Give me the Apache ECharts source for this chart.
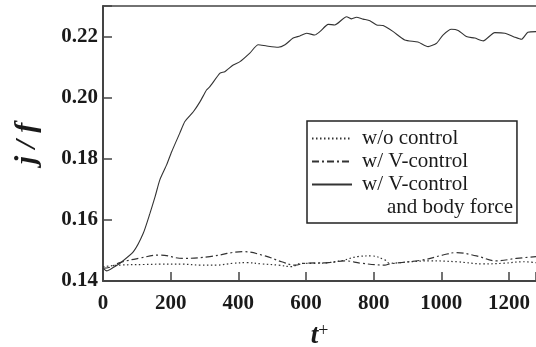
<!DOCTYPE html>
<html>
<head>
<meta charset="utf-8">
<script src="https://cdn.jsdelivr.net/npm/echarts@6/dist/echarts.min.js"></script>
<style>html,body{margin:0;padding:0;background:#fff}#c{width:536px;height:347px}</style>
</head>
<body>
<div id="c"></div>
<script>
// ---- data ----
const xTicks = [0, 200, 400, 600, 800, 1000, 1200];
const yTicks = [0.14, 0.16, 0.18, 0.20, 0.22];
const seriesNames = ['w/o control', 'w/ V-control', 'w/ V-control'];
const legendExtra = 'and body force';

const noCtrlT = [0, 50, 120, 168, 236, 287, 336, 384, 425, 469, 518, 557, 587, 630, 666, 710, 754, 794, 833, 848, 907, 966, 1045, 1124, 1183, 1242, 1280];
const noCtrlJ = [0.1447, 0.1452, 0.1454, 0.1455, 0.1455, 0.1452, 0.1452, 0.1458, 0.1460, 0.1456, 0.1452, 0.1447, 0.1458, 0.1458, 0.1460, 0.1468, 0.1480, 0.1482, 0.1469, 0.1458, 0.1463, 0.1466, 0.1463, 0.1456, 0.1458, 0.1463, 0.1460];

const vCtrlT = [0, 20, 50, 109, 168, 236, 316, 414, 479, 528, 567, 597, 666, 715, 764, 833, 848, 946, 1005, 1045, 1104, 1163, 1222, 1280];
const vCtrlJ = [0.1442, 0.1445, 0.1460, 0.1475, 0.1485, 0.1474, 0.1480, 0.1496, 0.1482, 0.1463, 0.1452, 0.1458, 0.1460, 0.1466, 0.1458, 0.1452, 0.1456, 0.1469, 0.1485, 0.1493, 0.1482, 0.1466, 0.1474, 0.1480];

const bodyT = [0, 11, 30, 50, 90, 119, 139, 154, 168, 188, 203, 227, 242, 267, 287, 306, 316, 346, 360, 385, 405, 434, 459, 484, 518, 538, 562, 582, 602, 626, 641, 666, 685, 720, 735, 749, 769, 789, 809, 828, 858, 892, 931, 961, 986, 1005, 1030, 1050, 1074, 1099, 1124, 1158, 1188, 1217, 1237, 1256, 1280];
const bodyJ = [0.1442, 0.1433, 0.1444, 0.1458, 0.1496, 0.1556, 0.1622, 0.1676, 0.1731, 0.1780, 0.1823, 0.1884, 0.1922, 0.1954, 0.1987, 0.2025, 0.2036, 0.2080, 0.2085, 0.2107, 0.2118, 0.2146, 0.2173, 0.2169, 0.2165, 0.2173, 0.2195, 0.2202, 0.2211, 0.2205, 0.2216, 0.2240, 0.2238, 0.2265, 0.2258, 0.2263, 0.2257, 0.2252, 0.2238, 0.2236, 0.2216, 0.2189, 0.2182, 0.2167, 0.2178, 0.2205, 0.2224, 0.2220, 0.2200, 0.2195, 0.2186, 0.2213, 0.2211, 0.2198, 0.2191, 0.2214, 0.2216];

const pairs = (t, v) => t.map((x, i) => [x, v[i]]);
const isTick = v => yTicks.some(t => Math.abs(t - v) < 1e-6);
const FONT = 'Liberation Serif';
const INK = '#1a1a1a';
const LINE = '#333';

const chart = echarts.init(document.getElementById('c'), null, {renderer: 'canvas'});
chart.setOption({
  animation: false,
  backgroundColor: '#fff',
  grid: {left: 103, top: 6, right: 0, bottom: 66, containLabel: false, outerBoundsMode: 'none'},
  legend: {
    orient: 'vertical', left: 307, top: 121,
    itemWidth: 40, itemHeight: 14, itemGap: 0,
    padding: [6, 49, 27, 4],
    borderColor: '#222', borderWidth: 1.5,
    itemStyle: {opacity: 0},
    textStyle: {fontFamily: FONT, fontSize: 21, color: INK, lineHeight: 23, padding: [0, 0, 0, 5]},
    data: [{name: 'a'}, {name: 'b'}, {name: 'c'}],
    formatter: n => ({a: seriesNames[0], b: seriesNames[1], c: seriesNames[2]})[n]
  },
  graphic: [{
    type: 'text', left: 387, top: 197,
    style: {text: legendExtra, font: '21px "Liberation Serif"', fill: INK}
  }],
  xAxis: [{
    type: 'value', min: 0, max: 1280, interval: 200,
    name: '{t|t}{s|+}', nameLocation: 'middle', nameGap: 41,
    nameTextStyle: {
      rich: {
        t: {fontFamily: FONT, fontSize: 27, fontWeight: 'bold', fontStyle: 'italic', color: INK, lineHeight: 28},
        s: {fontFamily: FONT, fontSize: 18, color: INK, verticalAlign: 'top', lineHeight: 14}
      }
    },
    axisLine: {lineStyle: {color: '#444', width: 2}},
    axisTick: {inside: true, length: 9, lineStyle: {color: '#444', width: 1.5}},
    axisLabel: {fontFamily: FONT, fontSize: 21, fontWeight: 'bold', color: INK, margin: 12,
      formatter: v => (xTicks.includes(v) ? String(v) : '')},
    splitLine: {show: false}
  }, {
    type: 'value', position: 'top', min: 0, max: 1280,
    axisLine: {show: true, lineStyle: {color: '#444', width: 1.5}},
    axisTick: {show: false}, axisLabel: {show: false}, splitLine: {show: false}
  }],
  yAxis: {
    type: 'value', min: 0.14, max: 0.23, interval: 0.02,
    name: 'j / f', nameLocation: 'middle', nameGap: 61, nameRotate: 90,
    nameTextStyle: {fontFamily: FONT, fontSize: 30, fontWeight: 'bold', fontStyle: 'italic', color: INK},
    axisLine: {lineStyle: {color: '#444', width: 2}},
    axisTick: {inside: true, length: 9, lineStyle: {color: '#444', width: 1.5}},
    axisLabel: {fontFamily: FONT, fontSize: 21, fontWeight: 'bold', color: INK, margin: 5,
      formatter: v => (isTick(v) ? v.toFixed(2) : '')},
    splitLine: {show: false}
  },
  series: [
    {name: 'a', type: 'line', data: pairs(noCtrlT, noCtrlJ), smooth: 0.4, symbol: 'none',
      lineStyle: {color: LINE, width: 1.2, type: [1.5, 2.5]}, itemStyle: {color: LINE}},
    {name: 'b', type: 'line', data: pairs(vCtrlT, vCtrlJ), smooth: 0.4, symbol: 'none',
      lineStyle: {color: LINE, width: 1.2, type: [7, 3, 2, 3]}, itemStyle: {color: LINE}},
    {name: 'c', type: 'line', data: pairs(bodyT, bodyJ), smooth: 0.2, symbol: 'none',
      lineStyle: {color: LINE, width: 1.1, type: 'solid'}, itemStyle: {color: LINE}}
  ]
});
</script>
</body>
</html>
